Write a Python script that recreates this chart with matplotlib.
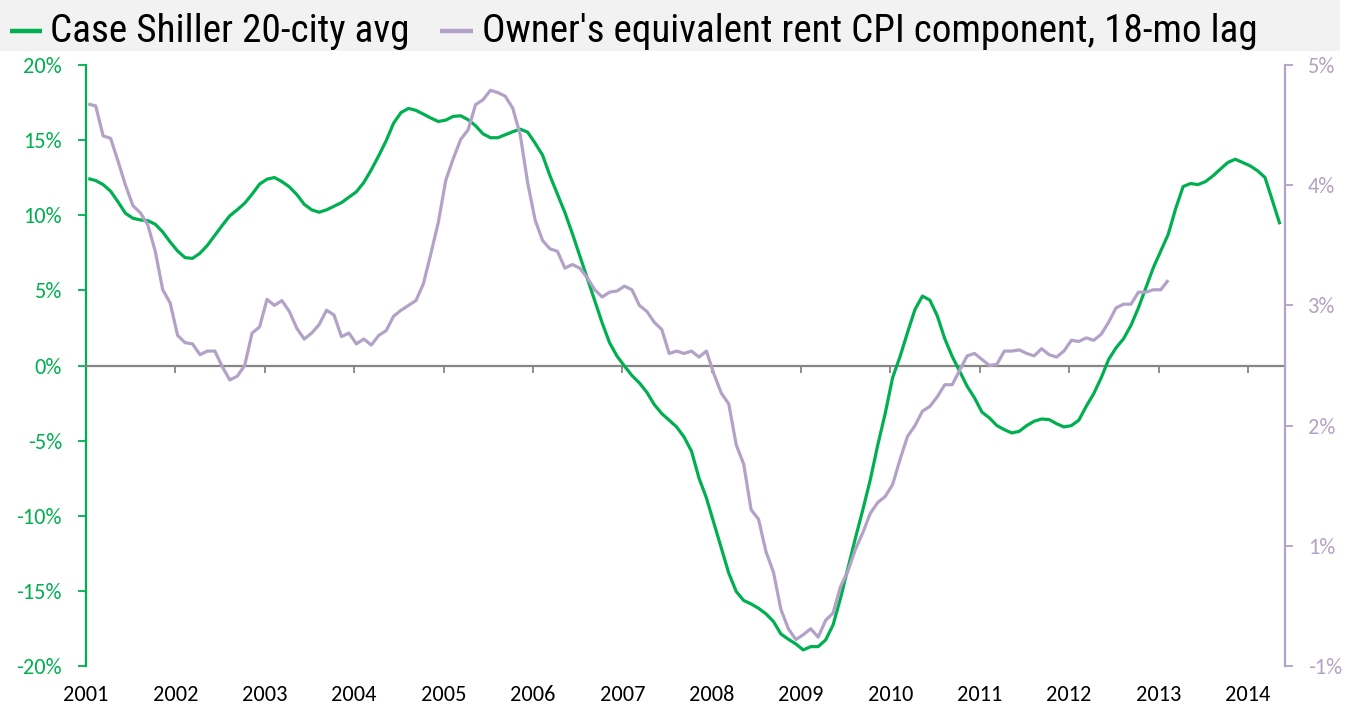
import matplotlib
matplotlib.use("Agg")
import matplotlib.pyplot as plt
from matplotlib import font_manager as fm
from matplotlib.lines import Line2D
from matplotlib.patches import Rectangle
import numpy as np

# ---------------- data ----------------
years = list(range(2001, 2015))
year_labels = [str(y) for y in years]

# Case Shiller 20-city avg, YoY %, monthly from Jan 2001
case_shiller = [
    12.44, 12.31, 12.04, 11.6, 10.89, 10.13, 9.8, 9.69, 9.64, 9.4,
    8.89, 8.22, 7.62, 7.18, 7.13, 7.47, 8.0, 8.67, 9.33, 9.96,
    10.36, 10.8, 11.4, 12.07, 12.4, 12.51, 12.24, 11.89, 11.38, 10.73,
    10.36, 10.2, 10.36, 10.6, 10.84, 11.2, 11.56, 12.18, 13.02, 13.96,
    14.96, 16.13, 16.84, 17.11, 16.98, 16.73, 16.47, 16.24, 16.33, 16.58,
    16.62, 16.36, 15.96, 15.42, 15.16, 15.16, 15.36, 15.56, 15.73, 15.53,
    14.8, 14.0, 12.62, 11.4, 10.18, 8.78, 7.29, 5.82, 4.29, 2.84,
    1.51, 0.62, -0.04, -0.67, -1.16, -1.78, -2.6, -3.2, -3.64, -4.09,
    -4.76, -5.71, -7.49, -8.82, -10.49, -12.16, -13.82, -15.04, -15.64, -15.87,
    -16.16, -16.53, -17.04, -17.87, -18.22, -18.53, -18.93, -18.71, -18.71, -18.27,
    -17.27, -15.49, -13.49, -11.49, -9.6, -7.6, -5.3, -3.2, -0.8, 0.6,
    2.2, 3.73, 4.62, 4.35, 3.3, 1.78, 0.6, -0.38, -1.38, -2.16,
    -3.11, -3.49, -4.0, -4.27, -4.49, -4.38, -4.0, -3.71, -3.56, -3.6,
    -3.87, -4.09, -4.0, -3.64, -2.71, -1.87, -0.82, 0.4, 1.18, 1.78,
    2.67, 3.84, 5.18, 6.51, 7.62, 8.73, 10.44, 11.91, 12.11, 12.04,
    12.24, 12.62, 13.07, 13.51, 13.73, 13.51, 13.29, 12.96, 12.51, 10.96,
    9.40,
]

# Owner's equivalent rent CPI component (18-mo lag), YoY %, monthly from Jan 2001
oer = [
    4.675, 4.66, 4.41, 4.39, 4.20, 4.00, 3.83, 3.77, 3.67, 3.45,
    3.13, 3.02, 2.75, 2.69, 2.68, 2.59, 2.62, 2.62, 2.49, 2.38,
    2.41, 2.50, 2.77, 2.82, 3.05, 3.00, 3.04, 2.95, 2.81, 2.72,
    2.77, 2.84, 2.96, 2.92, 2.74, 2.77, 2.68, 2.72, 2.67, 2.75,
    2.79, 2.91, 2.96, 3.00, 3.04, 3.18, 3.43, 3.69, 4.04, 4.22,
    4.38, 4.46, 4.67, 4.71, 4.79, 4.77, 4.74, 4.64, 4.42, 4.02,
    3.71, 3.54, 3.47, 3.45, 3.31, 3.34, 3.31, 3.23, 3.13, 3.07,
    3.11, 3.12, 3.16, 3.13, 3.00, 2.95, 2.86, 2.80, 2.60, 2.62,
    2.60, 2.62, 2.57, 2.62, 2.43, 2.27, 2.18, 1.84, 1.68, 1.30,
    1.22, 0.95, 0.78, 0.47, 0.31, 0.22, 0.26, 0.31, 0.24, 0.38,
    0.44, 0.66, 0.79, 0.97, 1.11, 1.27, 1.36, 1.41, 1.51, 1.72,
    1.91, 2.0, 2.12, 2.16, 2.24, 2.34, 2.34, 2.46, 2.58, 2.60,
    2.55, 2.50, 2.51, 2.62, 2.62, 2.63, 2.60, 2.58, 2.64, 2.59,
    2.57, 2.62, 2.71, 2.70, 2.73, 2.71, 2.76, 2.86, 2.98, 3.01,
    3.01, 3.11, 3.11, 3.13, 3.13, 3.21,
]

left_ticks = [20, 15, 10, 5, 0, -5, -10, -15, -20]
left_labels = ["20%", "15%", "10%", "5%", "0%", "-5%", "-10%", "-15%", "-20%"]
right_ticks = [5, 4, 3, 2, 1, 0]
right_labels = ["5%", "4%", "3%", "2%", "1%", "-1%"]

series_names = ["Case Shiller 20-city avg",
                "Owner's equivalent rent CPI component, 18-mo lag"]

GREEN = "#00B050"
PURPLE = "#B3A2C7"
GRAY = "#868686"
TICK_FS = 16

# ---------------- fonts ----------------
names = {f.name for f in fm.fontManager.ttflist}
narrow = next((n for n in ["Liberation Sans Narrow", "Roboto Condensed",
                           "Open Sans Condensed", "Noto Sans Condensed",
                           "DejaVu Sans"] if n in names), "DejaVu Sans")
tickfont = next((n for n in ["Carlito", "Lato", "Open Sans", "DejaVu Sans"]
                 if n in names), "DejaVu Sans")

W, H, DPI = 1360, 712, 100
fig = plt.figure(figsize=(W / DPI, H / DPI), dpi=DPI, facecolor="white")

def fx(px):
    return px / W

def fy(py):
    return 1 - py / H

# plot area: left spine x=86, right spine x=1285, top y=65, bottom y=666
ax = fig.add_axes([fx(86), fy(666), fx(1285) - fx(86), fy(65) - fy(666)])
ax.set_facecolor("none")

x_cs = 2001 + (np.arange(len(case_shiller)) + 0.3) / 12.0
x_oer = 2001 + (np.arange(len(oer)) + 0.3) / 12.0

ax.plot(x_cs, case_shiller, color=GREEN, lw=2.3, zorder=3,
        solid_joinstyle="round", solid_capstyle="butt")
ax.set_xlim(2001, 2014.415)
ax.set_ylim(-20, 20)
ax.set_yticks(left_ticks)
ax.set_yticklabels(left_labels)
ax.tick_params(axis="y", colors=GREEN, labelcolor=GREEN, length=5.8, width=1.3,
               pad=11.5, labelsize=TICK_FS)
for lab in ax.get_yticklabels():
    lab.set_family(tickfont)

ax.spines["left"].set_color(GREEN)
ax.spines["left"].set_linewidth(1.6)
ax.spines["top"].set_visible(False)
ax.spines["right"].set_visible(False)
ax.spines["bottom"].set_position(("data", 0))
ax.spines["bottom"].set_color(GRAY)
ax.spines["bottom"].set_linewidth(1.6)
ax.set_xticks(years)
ax.tick_params(axis="x", direction="out", length=5.2, width=1.3, color=GRAY,
               labelbottom=False)

sec = ax.secondary_xaxis("bottom")
sec.set_xticks(years)
sec.set_xticklabels(year_labels)
sec.tick_params(length=0, pad=14, labelsize=TICK_FS, labelcolor="black")
sec.spines["bottom"].set_visible(False)
for lab in sec.get_xticklabels():
    lab.set_family(tickfont)

ax2 = ax.twinx()
ax2.plot(x_oer, oer, color=PURPLE, lw=2.3, zorder=2,
         solid_joinstyle="round", solid_capstyle="butt")
ax2.set_ylim(0, 5)
ax2.set_yticks(right_ticks)
ax2.set_yticklabels(right_labels)
ax2.tick_params(axis="y", colors=PURPLE, labelcolor=PURPLE, length=5.8,
                width=1.3, pad=10.5, labelsize=TICK_FS)
for lab in ax2.get_yticklabels():
    lab.set_family(tickfont)
for s in ["top", "left", "bottom"]:
    ax2.spines[s].set_visible(False)
ax2.spines["right"].set_color(PURPLE)
ax2.spines["right"].set_linewidth(1.6)

# ---------------- legend band ----------------
fig.patches.append(Rectangle((0, fy(51)), fx(1340), 1 - fy(51),
                             transform=fig.transFigure, facecolor="#F2F2F2",
                             edgecolor="none", zorder=0))

renderer = fig.canvas.get_renderer()

def fitted_text(x0, x1, baseline_px, s):
    t = fig.text(fx(x0), fy(baseline_px), s, family=narrow, fontsize=30,
                 color="black", ha="left", va="baseline")
    w = t.get_window_extent(renderer).width
    t.set_fontsize(30 * (x1 - x0) / w)
    return t

fig.lines.append(Line2D([fx(10), fx(42)], [fy(31), fy(31)],
                        transform=fig.transFigure, color=GREEN, lw=3.2,
                        solid_capstyle="butt"))
fitted_text(50, 409, 42, series_names[0])
fig.lines.append(Line2D([fx(440), fx(473)], [fy(31), fy(31)],
                        transform=fig.transFigure, color=PURPLE, lw=3.2,
                        solid_capstyle="butt"))
fitted_text(482, 1258, 42, series_names[1])

fig.savefig("out.png", dpi=DPI, facecolor="white")
